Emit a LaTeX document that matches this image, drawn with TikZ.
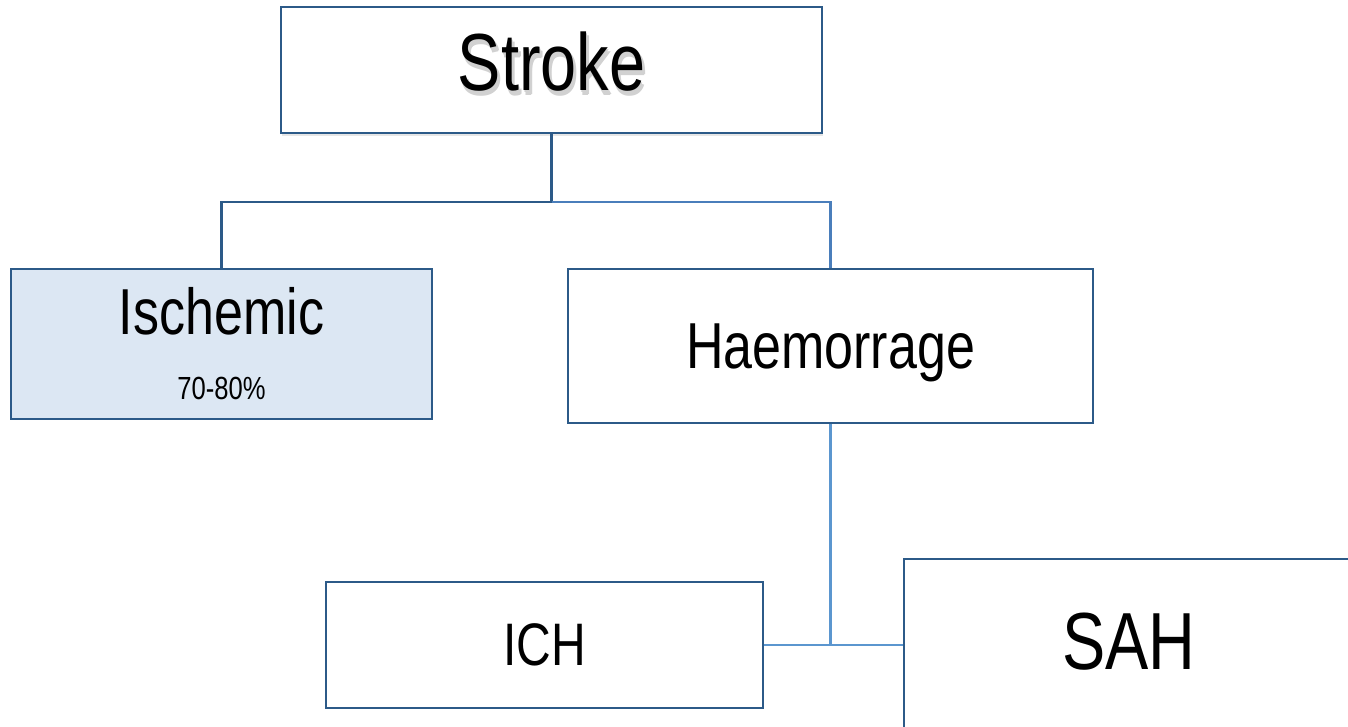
\documentclass[tikz,border=0pt]{standalone}
\usepackage{fontspec}
\setmainfont[FakeStretch=0.8]{Liberation Sans}
\usepackage{xcolor}
\usepackage{tikz}
\usetikzlibrary{positioning, calc, shadows}
\definecolor{edgeDark}{HTML}{2C5A88}
\definecolor{linkMid}{HTML}{4A7EBB}
\definecolor{linkLight}{HTML}{5B96CF}
\definecolor{ischFill}{HTML}{DCE7F3}
\newcommand{\softshade}[3]{\rlap{\raisebox{#2}[0pt][0pt]{\kern#1\textcolor{black!18}{#3}}}}
\tikzset{
  box/.style={draw=edgeDark, line width=1.3pt, fill=white, align=center, inner sep=0pt},
  link/.style={line width=1.2pt},
  bigtxt/.style={font=\fontsize{40.5pt}{42pt}\selectfont},
  midtxt/.style={font=\fontsize{32.5pt}{32.5pt}\selectfont},
}

\begin{document}
\begin{tikzpicture}[x=0.5pt, y=-0.5pt]
  \useasboundingbox (0,0) rectangle (1348,727);
  \clip (0,0) rectangle (1348,727);
  % ---- top level
  \node[box, bigtxt, minimum width=270.5pt, minimum height=63pt, text depth=9pt,
    drop shadow={opacity=0.2, shadow xshift=0.5pt, shadow yshift=-1.5pt}] (stroke) at (551.5,70)
    {\softshade{0.5pt}{-1pt}{Stroke}\softshade{1.5pt}{-2pt}{Stroke}\softshade{1pt}{-2.5pt}{Stroke}Stroke};
  % ---- second level
  \node[box, fill=ischFill, midtxt, minimum width=210.5pt, minimum height=75pt] (isch) at (221.5,344)
    {Ischemic\\{\fontsize{16pt}{16pt}\selectfont 70-80\%}};
  \node[box, midtxt, minimum width=262.5pt, minimum height=77pt, text depth=0pt] (haem) at (830.5,346) {Haemorrage};
  % ---- third level
  \node[box, font=\fontsize{30pt}{30pt}\selectfont, minimum width=218.5pt, minimum height=63pt] (ich) at (544.5,645) {ICH};
  \node[box, bigtxt, minimum width=225pt, minimum height=100pt, text depth=18pt] (sah) at (1129,659) {SAH};
  % ---- connectors
  \draw[link, draw=edgeDark] (stroke.south) -- ++(0,68) coordinate (split) -| (isch.north);
  \draw[link, draw=linkMid] (split) -| (haem.north);
  \draw[link, draw=linkLight] (haem.south) |- (ich.east) coordinate[pos=0.5] (fork);
  \draw[link, draw=linkLight] (fork) -- (fork -| sah.west);
\end{tikzpicture}
\end{document}
